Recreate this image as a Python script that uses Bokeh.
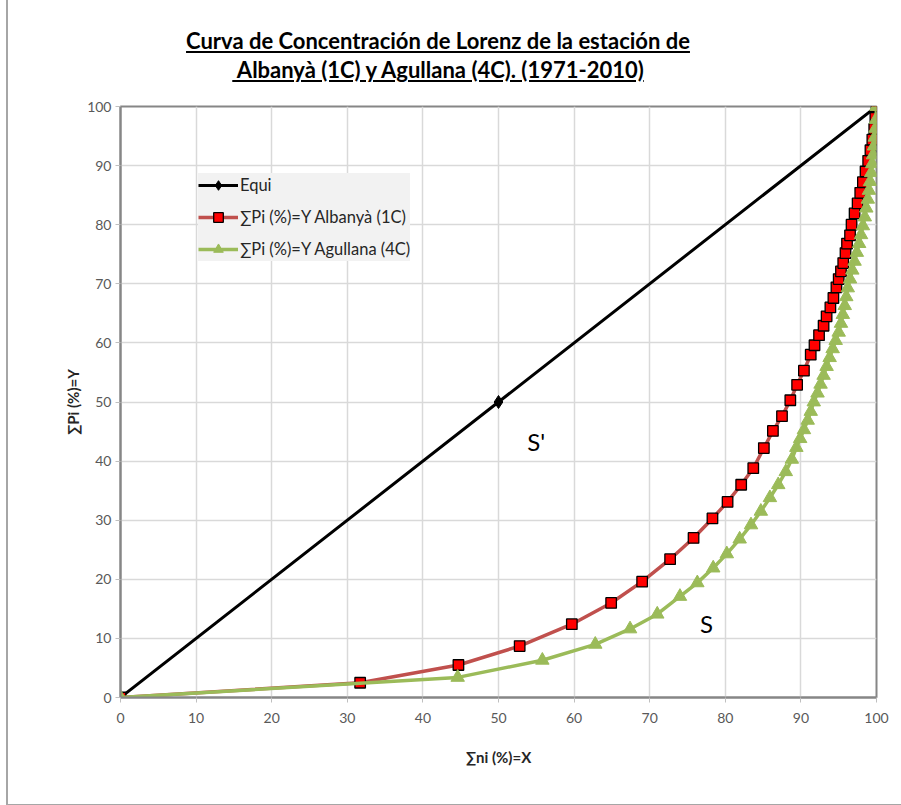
from bokeh.plotting import figure
from bokeh.models import Legend, LegendItem, Label, Div, FixedTicker
from bokeh.layouts import column
from bokeh.embed import file_html
from bokeh.resources import INLINE

# ---- data ----
equi_x = [0, 50, 100]
equi_y = [0, 50, 100]

alb_x = [0, 31.7, 44.7, 52.8, 59.7, 64.9, 69.0, 72.7, 75.8, 78.3, 80.3, 82.1, 83.7, 85.1,
         86.3, 87.5, 88.6, 89.5, 90.4, 91.3, 91.8, 92.4, 93.0, 93.4, 93.9, 94.3, 94.7, 95.0,
         95.3, 95.6, 95.9, 96.1, 96.5, 96.7, 97.1, 97.5, 97.85, 98.2, 98.55, 98.9, 99.2, 99.45,
         99.7, 99.85, 100]
alb_y = [0, 2.5, 5.5, 8.7, 12.4, 16.0, 19.6, 23.4, 27.0, 30.3, 33.1, 36.0, 38.8, 42.2,
         45.1, 47.6, 50.3, 52.9, 55.3, 58.0, 59.6, 61.3, 62.9, 64.5, 66.0, 67.6, 69.4, 70.8,
         72.1, 73.5, 75.2, 76.8, 78.2, 80.0, 81.9, 83.6, 85.4, 87.2, 89.0, 90.8, 92.6, 94.4,
         96.2, 98.1, 100]

agu_x = [0, 44.6, 55.8, 62.8, 67.4, 71.0, 74.0, 76.3, 78.4, 80.2, 81.9, 83.4, 84.7, 85.9,
         87.0, 88.0, 88.8, 89.4, 89.9, 90.4, 90.9, 91.3, 91.7, 92.2, 92.6, 93.0, 93.4, 93.8,
         94.2, 94.6, 95.0, 95.3, 95.55, 95.8, 96.0, 96.2, 96.5, 96.8, 97.1, 97.4, 97.7, 97.95,
         98.2, 98.45, 98.65, 98.85, 99.0, 99.15, 99.3, 99.42, 99.55, 99.67, 99.78, 99.87,
         99.94, 100]
agu_y = [0, 3.4, 6.3, 9.0, 11.6, 14.1, 17.1, 19.4, 21.9, 24.3, 26.8, 29.2, 31.5, 33.8,
         36.0, 38.2, 40.3, 42.3, 43.8, 45.3, 46.9, 48.4, 50.0, 51.5, 53.0, 54.5, 56.0, 57.5,
         59.0, 60.4, 61.8, 63.3, 64.8, 66.3, 67.8, 69.3, 70.8, 72.3, 73.8, 75.3, 76.8, 78.3,
         79.8, 81.3, 82.8, 84.3, 85.8, 87.3, 88.8, 90.3, 91.8, 93.3, 94.8, 96.3, 97.8, 100]

ticks = [0, 10, 20, 30, 40, 50, 60, 70, 80, 90, 100]

title_l1 = "Curva de Concentración de Lorenz de la estación de"
title_l2 = "Albanyà (1C) y Agullana (4C). (1971-2010)"
names = ["Equi", "\u2211Pi (%)=Y Albanyà (1C)", "\u2211Pi (%)=Y Agullana (4C)"]

FONT = "Lato"

p = figure(width=885, height=706, x_range=(0, 100), y_range=(0, 100),
           output_backend="svg", toolbar_location=None,
           min_border_left=112, min_border_right=17, min_border_top=8, min_border_bottom=107,
           background_fill_color="white", border_fill_color="white")
p.outline_line_color = "#868686"
p.outline_line_width = 2

for ax in (p.xaxis[0], p.yaxis[0]):
    ax.ticker = FixedTicker(ticks=ticks)
    ax.minor_tick_line_color = None
    ax.major_tick_in = 0
    ax.major_tick_out = 5
    ax.major_tick_line_color = "#bfbfbf"
    ax.axis_line_color = "#868686"
    ax.axis_line_width = 2
    ax.major_label_text_font = FONT
    ax.major_label_text_font_size = "14px"
    ax.major_label_text_color = "#595959"
    ax.axis_label_text_font = FONT
    ax.axis_label_text_font_size = "15px"
    ax.axis_label_text_font_style = "bold"
    ax.axis_label_text_color = "#262626"

p.xaxis.axis_label = "\u2211ni (%)=X"
p.yaxis.axis_label = "\u2211Pi (%)=Y"
p.xaxis.major_label_standoff = 10
p.xaxis.axis_label_standoff = 22
p.yaxis.major_label_standoff = 4
p.yaxis.axis_label_standoff = 2

p.grid.ticker = FixedTicker(ticks=ticks)
p.grid.grid_line_color = "#d9d9d9"
p.grid.grid_line_width = 1.5

r_eq_l = p.line(equi_x, equi_y, line_color="black", line_width=3)
r_eq_m = p.scatter(equi_x, equi_y, marker="diamond", size=13, fill_color="black", line_color="black")

r_al_l = p.line(alb_x, alb_y, line_color="#c0504d", line_width=3.5)
r_al_m = p.scatter(alb_x, alb_y, marker="square", size=10.5, fill_color="#ff0000",
                   line_color="black", line_width=1.3)

r_ag_l = p.line(agu_x, agu_y, line_color="#9bbb59", line_width=3.5)
r_ag_m = p.scatter(agu_x, agu_y, marker="triangle", size=13.5, fill_color="#9bbb59",
                   line_color="#9bbb59", line_width=1)

legend = Legend(items=[
    LegendItem(label=names[0], renderers=[r_eq_l, r_eq_m]),
    LegendItem(label=names[1], renderers=[r_al_l, r_al_m]),
    LegendItem(label=names[2], renderers=[r_ag_l, r_ag_m]),
], location=(78, 436))
legend.background_fill_color = "#f2f2f2"
legend.background_fill_alpha = 1
legend.border_line_color = None
legend.label_text_font = FONT
legend.label_text_font_size = "16.5px"
legend.label_text_color = "#262626"
legend.glyph_width = 40
legend.glyph_height = 24
legend.label_height = 24
legend.spacing = 8
legend.padding = 7
legend.margin = 0
legend.label_standoff = 2
p.add_layout(legend, "center")

p.add_layout(Label(x=55, y=43.3, text="S'", text_font=FONT, text_font_size="24px",
                   text_align="center", text_baseline="middle", text_color="black"))
p.add_layout(Label(x=77.5, y=12.5, text="S", text_font=FONT, text_font_size="24px",
                   text_align="center", text_baseline="middle", text_color="black"))

title = Div(text=(
    "<div style='font-family:Lato; font-weight:bold; font-size:22px; color:#000;"
    " text-align:center; line-height:29px; padding-top:21px; width:850px;'>"
    "<u>" + title_l1 + "</u><br><u>&nbsp;" + title_l2 + "</u></div>"),
    width=885, height=88)

layout = column(title, p, styles={"border-left": "2px solid #a6a6a6",
                                  "border-bottom": "2px solid #a6a6a6",
                                  "margin-left": "6px"})

open("out.html", "w").write(file_html(layout, INLINE))
